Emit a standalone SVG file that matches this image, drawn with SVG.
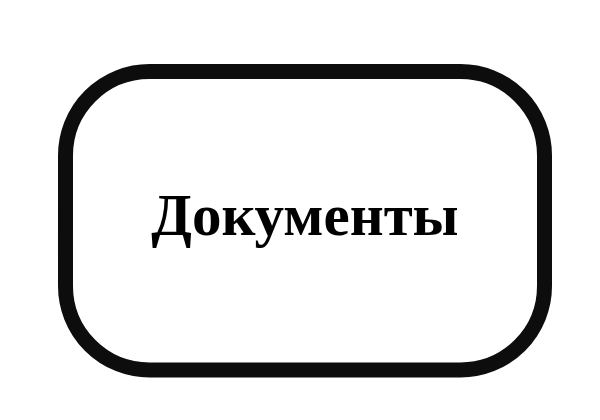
<svg xmlns="http://www.w3.org/2000/svg" width="600" height="420" viewBox="0 0 600 420">
<style>
.box{fill:#fff;stroke:#0d0d0d;stroke-width:15}
.lbl{font-family:"Liberation Serif","Times New Roman",serif;font-weight:bold;font-size:59px;fill:#000;text-anchor:middle}
</style>
<rect width="600" height="420" fill="#fff"/>
<g id="connectors"/>
<g id="node-documents">
<rect class="box" x="65.5" y="71.5" width="479" height="298.5" rx="84" ry="84"/>
<text class="lbl" x="305" y="235">Документы</text>
</g>
</svg>
